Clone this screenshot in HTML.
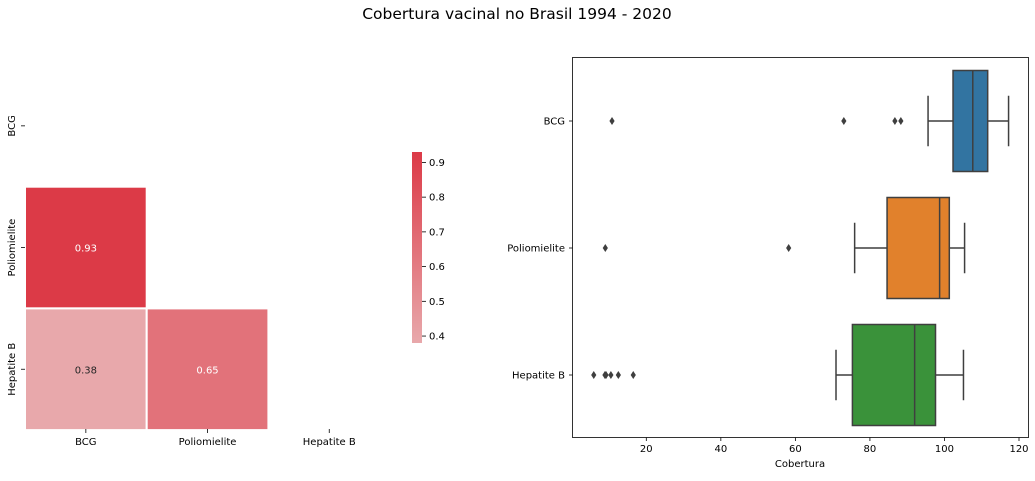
<!DOCTYPE html>
<html><head><meta charset="utf-8"><style>
body{margin:0;background:#fff;width:1035px;height:476px;overflow:hidden}
svg{font-family:"DejaVu Sans","Liberation Sans",sans-serif}
</style></head><body>
<svg id="s" width="1035" height="476" xmlns="http://www.w3.org/2000/svg">
<text x="517" y="19" text-anchor="middle" font-size="15.5" fill="#000">Cobertura vacinal no Brasil 1994 - 2020</text>
<g id="hm"></g>
<g id="cb"></g>
<g id="bp"></g>
</svg>
<script>
const labels=["BCG","Poliomielite","Hepatite B"];
const corrCells=[[1,0,0.93],[2,0,0.38],[2,1,0.65]]; // row, col, value
const cbTicks=[0.4,0.5,0.6,0.7,0.8,0.9];
const vmin=0.38, vmax=0.93;
const boxQ1=[102.3,84.6,75.3];
const boxMed=[107.6,98.7,92.0];
const boxQ3=[111.6,101.3,97.6];
const whiskLo=[95.6,75.9,70.9];
const whiskHi=[117.2,105.4,105.1];
const outliers=[[10.8,73,86.7,88.3],[9,58.2],[5.9,8.9,9.2,10.5,12.5,16.5]];
const boxColors=["#3274a1","#e1812c","#3a923a"];
const xTicks=[20,40,60,80,100,120];

const NS="http://www.w3.org/2000/svg";
function mk(p,t,a,txt){const e=document.createElementNS(NS,t);for(const k in a)e.setAttribute(k,a[k]);if(txt!==undefined)e.textContent=txt;p.appendChild(e);return e;}
function lerp(a,b,t){return Math.round(a+(b-a)*t);}
function col(v){const t=Math.max(0,Math.min(1,(v-vmin)/(vmax-vmin)));return `rgb(${lerp(232,220,t)},${lerp(168,58,t)},${lerp(171,71,t)})`;}

// heatmap
const hm=document.getElementById('hm');
const hx0=25,hy0=65,cs=121.7;
corrCells.forEach(([r,c,v])=>{
 const e=mk(hm,'rect',{x:hx0+c*cs,y:hy0+r*cs,width:cs,height:cs,fill:col(v),stroke:'#fff','stroke-width':2});
 
 
 const t=mk(hm,'text',{x:hx0+c*cs+cs/2,y:hy0+r*cs+cs/2+4,'text-anchor':'middle','font-size':10,fill:v>0.5?'#fff':'#262626'},v.toFixed(2));
 
 
});
labels.forEach((l,i)=>{
 const cx=hx0+i*cs+cs/2, cy=hy0+i*cs+cs/2;
 mk(hm,'line',{x1:cx,x2:cx,y1:429,y2:433,stroke:'#000','stroke-width':0.8});
 const t=mk(hm,'text',{x:cx,y:445,'text-anchor':'middle','font-size':10},l);
 
 
 mk(hm,'line',{x1:21,x2:25,y1:cy,y2:cy,stroke:'#000','stroke-width':0.8});
 const t2=mk(hm,'text',{x:15,y:cy,'text-anchor':'middle','font-size':10,transform:`rotate(-90 15 ${cy})`},l);
 
 
});

// colorbar
const cb=document.getElementById('cb');
const cbx=412,cbTop=152,cbBot=343;
const cby=v=>cbBot-(v-vmin)/(vmax-vmin)*(cbBot-cbTop);
const defs=mk(cb,'defs',{});
const g=mk(defs,'linearGradient',{id:'gr',x1:0,y1:1,x2:0,y2:0});
mk(g,'stop',{offset:0,'stop-color':col(vmin)});
mk(g,'stop',{offset:1,'stop-color':col(vmax)});
mk(cb,'rect',{x:cbx,y:cbTop,width:10,height:cbBot-cbTop,fill:'url(#gr)'});
cbTicks.forEach(v=>{
 const y=cby(v);
 mk(cb,'line',{x1:422,x2:426,y1:y,y2:y,stroke:'#000','stroke-width':0.8});
 const t=mk(cb,'text',{x:429,y:y+3.5,'font-size':10},v.toFixed(1));
 
 
});

// boxplot
const bp=document.getElementById('bp');
const X=v=>646.3+(v-20)*3.727;
const rowY=i=>121+i*127;
const hh=50.5, gr='#3f3f3f';
mk(bp,'rect',{x:572.5,y:57.5,width:456,height:380,fill:'none',stroke:'#000','stroke-width':0.8});
xTicks.forEach(v=>{
 mk(bp,'line',{x1:X(v),x2:X(v),y1:437.5,y2:441,stroke:'#000','stroke-width':0.8});
 const t=mk(bp,'text',{x:X(v),y:452,'text-anchor':'middle','font-size':10},v);
 
 
});
const xl=mk(bp,'text',{x:800,y:467,'text-anchor':'middle','font-size':10},'Cobertura');


labels.forEach((l,i)=>{
 const y=rowY(i);
 mk(bp,'line',{x1:569,x2:572.5,y1:y,y2:y,stroke:'#000','stroke-width':0.8});
 const t=mk(bp,'text',{x:565,y:y+3.5,'text-anchor':'end','font-size':10},l);
 
 
 mk(bp,'line',{x1:X(whiskLo[i]),x2:X(boxQ1[i]),y1:y,y2:y,stroke:gr,'stroke-width':1.5});
 mk(bp,'line',{x1:X(boxQ3[i]),x2:X(whiskHi[i]),y1:y,y2:y,stroke:gr,'stroke-width':1.5});
 mk(bp,'line',{x1:X(whiskLo[i]),x2:X(whiskLo[i]),y1:y-hh/2,y2:y+hh/2,stroke:gr,'stroke-width':1.5});
 mk(bp,'line',{x1:X(whiskHi[i]),x2:X(whiskHi[i]),y1:y-hh/2,y2:y+hh/2,stroke:gr,'stroke-width':1.5});
 const b=mk(bp,'rect',{x:X(boxQ1[i]),y:y-hh,width:X(boxQ3[i])-X(boxQ1[i]),height:2*hh,fill:boxColors[i],stroke:gr,'stroke-width':1.5});
 
 
 mk(bp,'line',{x1:X(boxMed[i]),x2:X(boxMed[i]),y1:y-hh,y2:y+hh,stroke:gr,'stroke-width':1.5});
 outliers[i].forEach(v=>{
  const p=mk(bp,'path',{d:`M${X(v)} ${y-4}L${X(v)+2.6} ${y}L${X(v)} ${y+4}L${X(v)-2.6} ${y}Z`,fill:gr});
  
  
 });
});
</script>
</body></html>
